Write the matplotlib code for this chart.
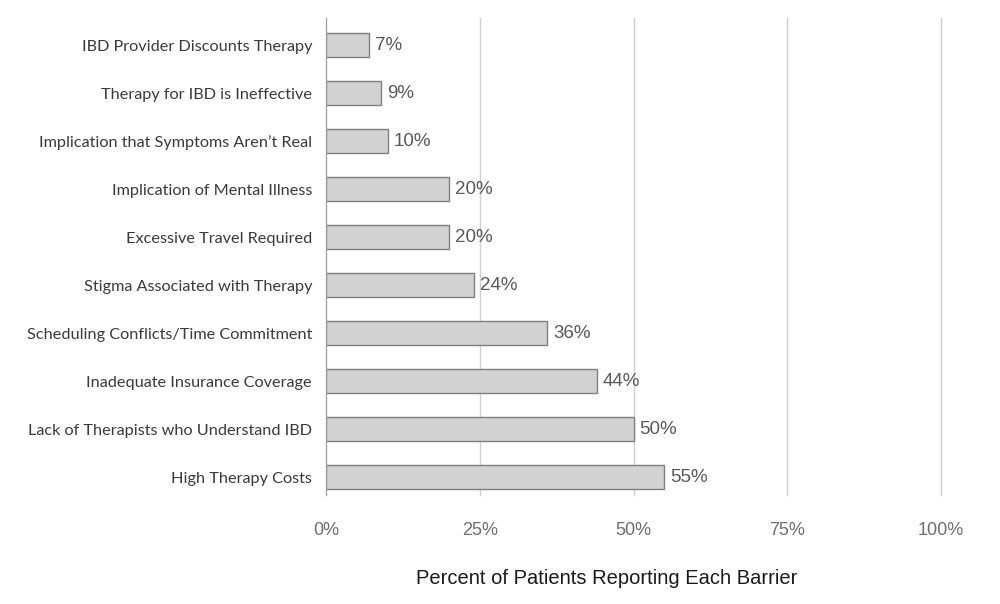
import matplotlib
matplotlib.use('Agg')
import matplotlib.pyplot as plt
from matplotlib.ticker import FuncFormatter

# Data (top to bottom in the picture)
barriers = [
    'IBD Provider Discounts Therapy',
    'Therapy for IBD is Ineffective',
    'Implication that Symptoms Aren\u2019t Real',
    'Implication of Mental Illness',
    'Excessive Travel Required',
    'Stigma Associated with Therapy',
    'Scheduling Conflicts/Time Commitment',
    'Inadequate Insurance Coverage',
    'Lack of Therapists who Understand IBD',
    'High Therapy Costs',
]
percents = [7, 9, 10, 20, 20, 24, 36, 44, 50, 55]
xticks = [0, 25, 50, 75, 100]

fig = plt.figure(figsize=(10, 6.04), dpi=100)
ax = fig.add_axes([0.326, 0.180, 0.615, 0.790])

ypos = list(range(len(barriers)))
ax.barh(ypos, percents, height=0.5, color='#d2d2d2', edgecolor='#7f7f7f',
        linewidth=1.0, zorder=3)

for y, p in zip(ypos, percents):
    ax.text(p + 1.0, y, '{}%'.format(p), va='center', ha='left',
            fontsize=13.5, color='#595959', family='Liberation Sans')

ax.set_ylim(len(barriers) - 0.62, -0.57)
ax.set_xlim(0, 100)
ax.set_yticks(ypos)
ax.set_yticklabels(barriers, family='Lato', fontsize=11.7, color='#3a3a3a')
ax.set_xticks(xticks)
ax.xaxis.set_major_formatter(FuncFormatter(lambda v, pos: '{:.0f}%'.format(v)))
for lbl in ax.get_xticklabels():
    lbl.set_family('Liberation Sans')
    lbl.set_fontsize(13)
    lbl.set_color('#6e6e6e')

ax.tick_params(axis='both', length=0)
ax.tick_params(axis='x', pad=19)
ax.tick_params(axis='y', pad=10)
ax.grid(axis='x', color='#cfcfcf', linewidth=1.0, zorder=0)
for gl in ax.get_xgridlines():
    gl.set_clip_on(False)

for side in ['top', 'right', 'bottom']:
    ax.spines[side].set_visible(False)
ax.spines['left'].set_color('#a0a0a0')
ax.spines['left'].set_zorder(4)

ax.set_xlabel('Percent of Patients Reporting Each Barrier', family='Liberation Sans',
              fontsize=14.5, color='#1a1a1a')
ax.xaxis.set_label_coords(0.456, -0.155)

fig.savefig('out.png', dpi=100)
